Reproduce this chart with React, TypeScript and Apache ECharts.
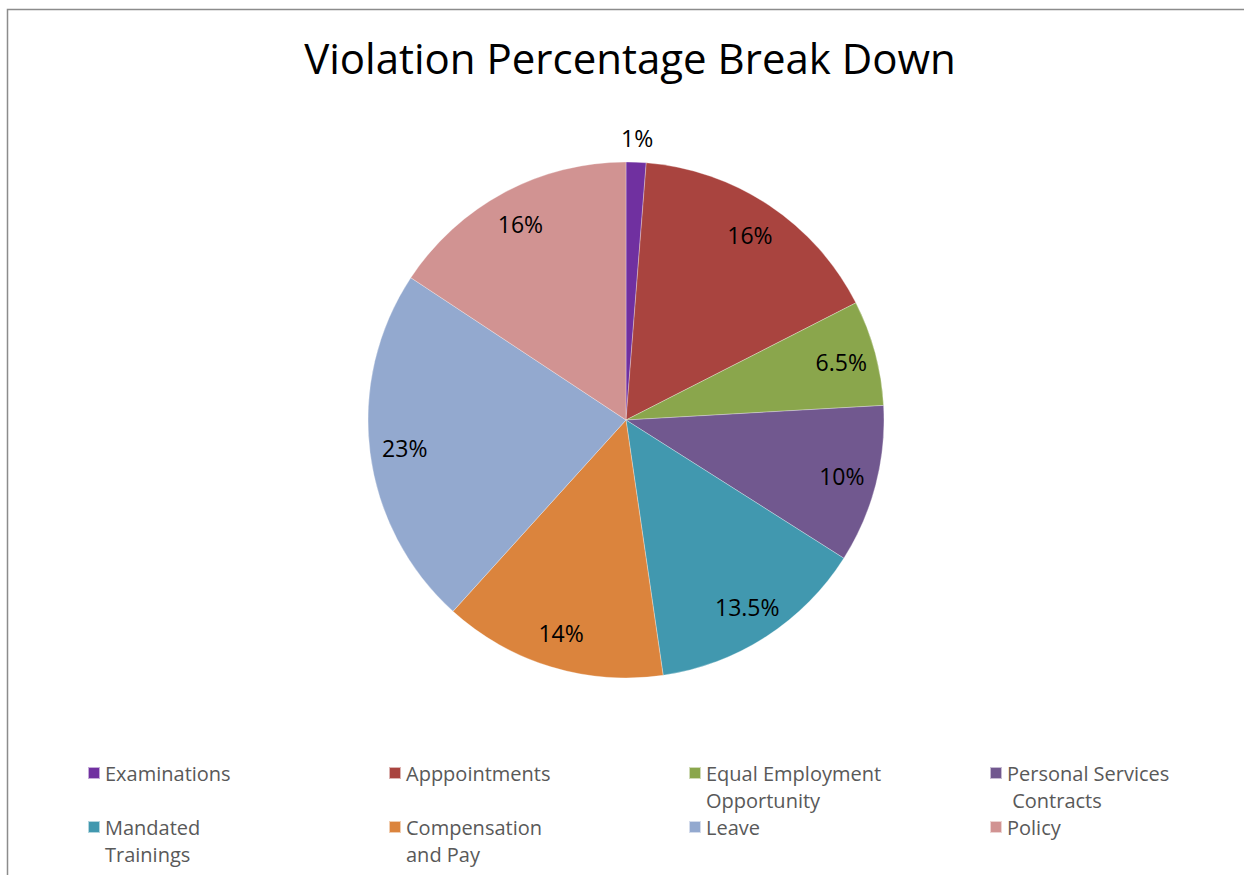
import React, { useEffect, useRef } from "react";
import * as echarts from "echarts";

const categories = [
  "Examinations",
  "Apppointments",
  "Equal Employment Opportunity",
  "Personal Services Contracts",
  "Mandated Trainings",
  "Compensation and Pay",
  "Leave",
  "Policy",
];
// slice sizes
const values = [1.25, 16.25, 6.6, 9.9, 13.7, 14.0, 22.6, 15.7];
// data labels as printed on the chart
const labels = ["1%", "16%", "6.5%", "10%", "13.5%", "14%", "23%", "16%"];
const colors = ["#7030A0", "#A9443F", "#8AA64C", "#71588F", "#4198AF", "#DB843D", "#93A9CF", "#D19392"];
const legendLines: string[][] = [
  ["Examinations"],
  ["Apppointments"],
  ["Equal Employment", "Opportunity"],
  ["Personal Services", " Contracts"],
  ["Mandated", "Trainings"],
  ["Compensation", "and Pay"],
  ["Leave"],
  ["Policy"],
];
const title = "Violation Percentage Break Down";

const FONT = "'Open Sans', 'Noto Sans', sans-serif";

export default function App() {
  const ref = useRef<HTMLDivElement>(null);
  useEffect(() => {
    document.body.style.margin = "0";
    const chart = echarts.init(ref.current!, null, { renderer: "svg" });
    const cx = 626;
    const cy = 420;
    const R = 258;
    const LH = 27;
    const colX = [87, 388, 688, 989];
    const rowIconTop = [767, 821];

    const legends = categories.map((name, i) => {
      const lines = legendLines[i];
      const textLines = lines.length > 1 ? ["", ...lines] : lines;
      const n = textLines.length;
      const iconTop = rowIconTop[Math.floor(i / 4)];
      return {
        data: [name],
        left: colX[i % 4],
        top: iconTop - (n * LH) / 2 + 6,
        padding: 0,
        icon: "rect",
        itemWidth: 12,
        itemHeight: 12,
        selectedMode: false,
        formatter: () => textLines.join("\n"),
        textStyle: {
          fontFamily: FONT,
          fontSize: 20,
          color: "#595959",
          lineHeight: LH,
        },
      };
    });

    const data = categories.map((name, i) => ({
      name,
      value: values[i],
      itemStyle: { color: colors[i] },
    }));

    const labelSeriesData = categories.map((name, i) => ({
      name,
      value: values[i],
      itemStyle: { color: "transparent" },
    }));

    chart.setOption({
      animation: false,
      color: colors,
      title: {
        text: title,
        left: 625,
        textAlign: "center",
        top: 31,
        textStyle: { fontFamily: FONT, fontSize: 42, fontWeight: "normal", color: "#000" },
      },
      graphic: [
        {
          type: "rect",
          shape: { x: 7.5, y: 9.5, width: 1400, height: 1000 },
          style: { fill: "none", stroke: "#8c8c8c", lineWidth: 1.5 },
          silent: true,
          z: -10,
        },
      ],
      legend: legends,
      series: [
        {
          type: "pie",
          center: [cx, cy],
          radius: [0, R],
          startAngle: 90,
          clockwise: true,
          silent: true,
          label: { show: false },
          labelLine: { show: false },
          itemStyle: { borderColor: "rgba(255,255,255,0.6)", borderWidth: 0.5 },
          data,
        },
        {
          type: "pie",
          center: [cx, cy],
          radius: [182, R],
          startAngle: 90,
          clockwise: true,
          silent: true,
          itemStyle: { color: "transparent" },
          label: {
            show: true,
            position: "inside",
            formatter: (p: any) => (p.dataIndex === 0 ? "" : labels[p.dataIndex]),
            fontFamily: FONT,
            fontSize: 23,
            color: "#000",
          },
          labelLine: { show: false },
          data: labelSeriesData,
        },
        {
          type: "pie",
          center: [cx, cy],
          radius: [262, 296],
          startAngle: 90,
          clockwise: true,
          silent: true,
          itemStyle: { color: "transparent" },
          label: {
            show: true,
            position: "inside",
            formatter: (p: any) => (p.dataIndex === 0 ? labels[0] : ""),
            fontFamily: FONT,
            fontSize: 23,
            color: "#000",
          },
          labelLine: { show: false },
          data: labelSeriesData,
        },
      ],
    });
    return () => chart.dispose();
  }, []);
  return <div ref={ref} style={{ width: 1244, height: 875 }} />;
}
